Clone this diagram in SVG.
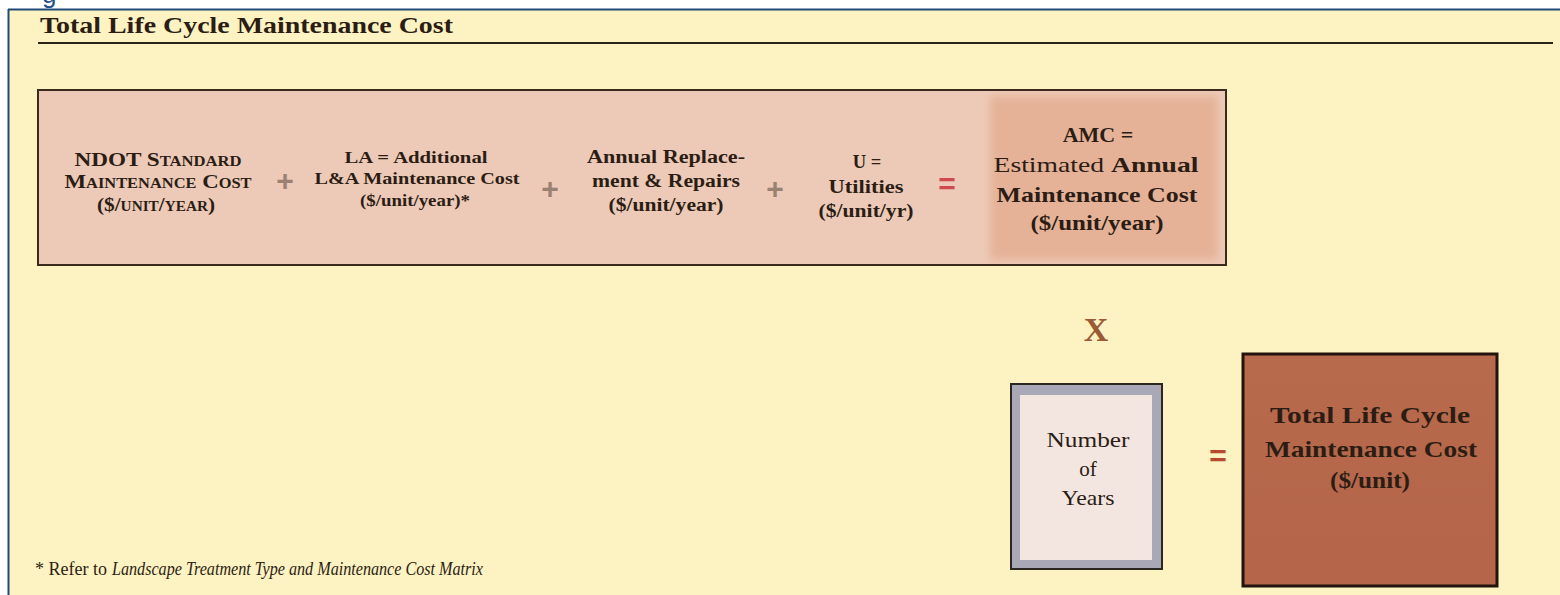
<svg xmlns="http://www.w3.org/2000/svg" width="1560" height="595" viewBox="0 0 1560 595">
  <style>
    .serif { font-family: "Liberation Serif", "DejaVu Serif", serif; fill: #2b1d14; }
    .b { font-weight: bold; }
    .sc { font-variant: small-caps; }
    .op { font-family: "Liberation Sans", "DejaVu Sans", sans-serif; font-weight: bold; text-anchor: middle; }
    .plus { fill: #9a8172; font-size: 30px; }
    .eq { fill: #cf4b50; font-size: 30px; }
    .mid { text-anchor: middle; }
  </style>
  <defs>
    <filter id="soft" x="-10%" y="-10%" width="120%" height="120%">
      <feGaussianBlur stdDeviation="4"/>
    </filter>
    <clipPath id="formulaClip">
      <rect x="38" y="90" width="1188" height="175"/>
    </clipPath>
    <linearGradient id="totalFill" x1="0" y1="0" x2="0" y2="1">
      <stop offset="0" stop-color="#b86a4c"/>
      <stop offset="1" stop-color="#b4654a"/>
    </linearGradient>
  </defs>

  <!-- page and panel -->
  <rect x="0" y="0" width="1560" height="595" fill="#ffffff"/>
  <text x="42" y="3" font-family="Liberation Sans, sans-serif" font-size="26" fill="#1f4e8a">g</text>
  <rect x="9" y="10" width="1551" height="585" fill="#fdf2c1"/>
  <line x1="8" y1="9.5" x2="1560" y2="9.5" stroke="#1f4a78" stroke-width="2"/>
  <line x1="8.5" y1="9" x2="8.5" y2="595" stroke="#1f4a78" stroke-width="2"/>

  <!-- heading -->
  <g id="heading">
    <text class="serif b" x="40" y="33" font-size="24" textLength="413" lengthAdjust="spacingAndGlyphs">Total Life Cycle Maintenance Cost</text>
    <line x1="38" y1="43" x2="1553" y2="43" stroke="#2a2418" stroke-width="2"/>
  </g>

  <!-- annual cost formula -->
  <g id="annual-formula">
    <rect x="38" y="90" width="1188" height="175" fill="#edcab7"/>
    <g clip-path="url(#formulaClip)">
      <rect x="990" y="96" width="228" height="164" fill="#e5b298" filter="url(#soft)"/>
    </g>
    <rect x="38" y="90" width="1188" height="175" fill="none" stroke="#3a2a1e" stroke-width="2"/>
  </g>

  <g id="ndot-standard">
    <text class="serif b sc mid" x="158" y="166" font-size="19.5" textLength="167" lengthAdjust="spacingAndGlyphs">NDOT Standard</text>
    <text class="serif b sc mid" x="158" y="188" font-size="19.5" textLength="187" lengthAdjust="spacingAndGlyphs">Maintenance Cost</text>
    <text class="serif b sc mid" x="156" y="211" font-size="19.5" textLength="118" lengthAdjust="spacingAndGlyphs">($/unit/year)</text>
  </g>

  <g id="la-additional">
    <text class="serif b mid" x="416" y="163" font-size="17.5" textLength="143" lengthAdjust="spacingAndGlyphs">LA =  Additional</text>
    <text class="serif b mid" x="417" y="184" font-size="17.5" textLength="205" lengthAdjust="spacingAndGlyphs">L&amp;A Maintenance Cost</text>
    <text class="serif b mid" x="415" y="206" font-size="16" textLength="110" lengthAdjust="spacingAndGlyphs">($/unit/year)*</text>
  </g>

  <g id="replacement">
    <text class="serif b mid" x="666" y="163" font-size="18.5" textLength="158" lengthAdjust="spacingAndGlyphs">Annual Replace-</text>
    <text class="serif b mid" x="666" y="187" font-size="18.5" textLength="148" lengthAdjust="spacingAndGlyphs">ment &amp; Repairs</text>
    <text class="serif b mid" x="666" y="211" font-size="18.5" textLength="115" lengthAdjust="spacingAndGlyphs">($/unit/year)</text>
  </g>

  <g id="utilities">
    <text class="serif b mid" x="867" y="168" font-size="18.5">U =</text>
    <text class="serif b mid" x="866" y="193" font-size="18.5" textLength="75" lengthAdjust="spacingAndGlyphs">Utilities</text>
    <text class="serif b mid" x="866" y="217" font-size="18.5" textLength="95" lengthAdjust="spacingAndGlyphs">($/unit/yr)</text>
  </g>

  <g id="amc">
    <text class="serif b mid" x="1098" y="142" font-size="22">AMC =</text>
    <text class="serif mid" x="1096" y="172" font-size="22" textLength="205" lengthAdjust="spacingAndGlyphs">Estimated <tspan class="b">Annual</tspan></text>
    <text class="serif b mid" x="1097" y="202" font-size="22" textLength="201" lengthAdjust="spacingAndGlyphs">Maintenance Cost</text>
    <text class="serif b mid" x="1097" y="230" font-size="22" textLength="133" lengthAdjust="spacingAndGlyphs">($/unit/year)</text>
  </g>

  <!-- operators -->
  <g id="operators">
    <text class="op plus" x="285" y="191">+</text>
    <text class="op plus" x="550" y="199">+</text>
    <text class="op plus" x="775" y="199">+</text>
    <text class="op eq" x="947" y="194">=</text>
    <text x="1096" y="341" font-family="Liberation Serif, serif" font-weight="bold" font-size="34" fill="#9b5a36" text-anchor="middle">X</text>
    <text class="op" x="1218" y="466" font-size="30" fill="#b8492e">=</text>
  </g>

  <!-- years -->
  <g id="number-of-years">
    <rect x="1011" y="384" width="151" height="185" fill="#a8a8b6" stroke="#2a2620" stroke-width="2"/>
    <rect x="1020" y="395" width="132" height="165" fill="#f3e6e1"/>
    <text class="serif mid" x="1088" y="447" font-size="21" textLength="83" lengthAdjust="spacingAndGlyphs">Number</text>
    <text class="serif mid" x="1088" y="476" font-size="21">of</text>
    <text class="serif mid" x="1088" y="505" font-size="21" textLength="53" lengthAdjust="spacingAndGlyphs">Years</text>
  </g>

  <!-- result -->
  <g id="total-cost">
    <rect x="1243" y="354" width="254" height="232" fill="url(#totalFill)" stroke="#22140c" stroke-width="3"/>
    <text class="serif b mid" x="1370" y="423" font-size="24" fill="#24150d" textLength="200" lengthAdjust="spacingAndGlyphs">Total Life Cycle</text>
    <text class="serif b mid" x="1371" y="457" font-size="24" fill="#24150d" textLength="212" lengthAdjust="spacingAndGlyphs">Maintenance Cost</text>
    <text class="serif b mid" x="1370" y="488" font-size="24" fill="#24150d" textLength="80" lengthAdjust="spacingAndGlyphs">($/unit)</text>
  </g>

  <!-- footnote -->
  <g id="footnote">
    <text class="serif" x="35" y="575" font-size="18" textLength="72" lengthAdjust="spacingAndGlyphs">* Refer to</text>
    <text class="serif" x="112" y="575" font-size="18" font-style="italic" textLength="371" lengthAdjust="spacingAndGlyphs">Landscape Treatment Type and Maintenance Cost Matrix</text>
  </g>
</svg>
